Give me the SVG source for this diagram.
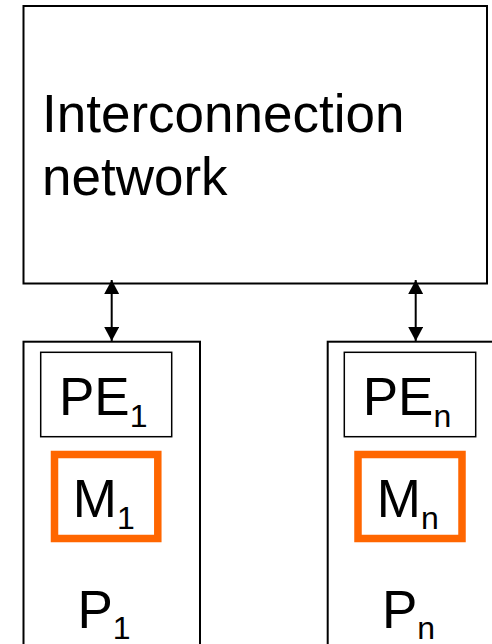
<svg xmlns="http://www.w3.org/2000/svg" width="492" height="644" viewBox="0 0 492 644">
<style>
.box{fill:#fff;stroke:#000;stroke-width:2}
.pe{fill:#fff;stroke:#000;stroke-width:1.5}
.mem{fill:#fff;stroke:#FF6600;stroke-width:7.5}
.t{font-family:"Liberation Sans",Arial,sans-serif;font-size:53px;fill:#000}
.s{font-size:32px}
.conn{stroke:#000;stroke-width:2;fill:none}
</style>
<defs>
<marker id="ah" viewBox="0 0 14 15" refX="14" refY="7.5" markerWidth="14" markerHeight="15" markerUnits="userSpaceOnUse" orient="auto-start-reverse">
<polygon points="0,0 14,7.5 0,15" fill="#000"/>
</marker>
</defs>
<g id="network">
<rect class="box" x="23.5" y="6" width="463.5" height="277.5"/>
<text class="t" x="42" y="131.7">Interconnection</text>
<text class="t" x="42" y="195">network</text>
</g>
<g id="p1">
<rect class="box" x="23.5" y="341.7" width="176.5" height="320"/>
<text class="t" x="77.5" y="628.3">P<tspan class="s" dy="11">1</tspan></text>
</g>
<g id="pe1">
<rect class="pe" x="40.7" y="352.3" width="131" height="84.4"/>
<text class="t" x="59" y="415">PE<tspan class="s" dy="12">1</tspan></text>
</g>
<g id="m1">
<rect class="mem" x="54.5" y="454.5" width="103.3" height="84"/>
<text class="t" x="72.8" y="516.7">M<tspan class="s" dy="12">1</tspan></text>
</g>
<g id="pn">
<rect class="box" x="327.7" y="341.7" width="176" height="320"/>
<text class="t" x="382" y="628.3">P<tspan class="s" dy="11">n</tspan></text>
</g>
<g id="pen">
<rect class="pe" x="344.3" y="352.3" width="131.4" height="84.4"/>
<text class="t" x="362.7" y="415">PE<tspan class="s" dy="12">n</tspan></text>
</g>
<g id="mn">
<rect class="mem" x="358" y="454.5" width="104" height="84"/>
<text class="t" x="376.8" y="516.7">M<tspan class="s" dy="12">n</tspan></text>
</g>
<g id="connectors">
<line class="conn" x1="111.7" y1="280" x2="111.7" y2="341" marker-start="url(#ah)" marker-end="url(#ah)"/>
<line class="conn" x1="415.7" y1="280" x2="415.7" y2="341" marker-start="url(#ah)" marker-end="url(#ah)"/>
</g>
</svg>
